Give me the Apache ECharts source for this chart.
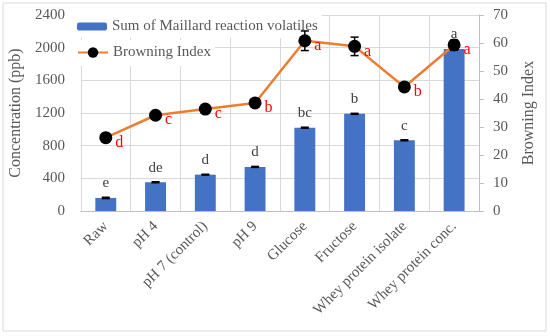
<!DOCTYPE html>
<html><head><meta charset="utf-8">
<script src="https://cdn.jsdelivr.net/npm/echarts@6/dist/echarts.min.js"></script>
<style>html,body{margin:0;padding:0;background:#fff}#c{width:550px;height:336px}</style>
</head><body><div id="c"></div>
<script>
const categories = ['Raw','pH 4','pH 7 (control)','pH 9','Glucose','Fructose','Whey protein isolate','Whey protein conc.'];
const volatiles = [160, 352, 445, 540, 1020, 1190, 866, 1985];
const volatilesErr = [8, 6, 5, 6, 6, 6, 6, 15];
const volatilesLetters = ['e','de','d','d','bc','b','c','a'];
const browning = [26.2, 34.2, 36.4, 38.6, 60.8, 58.8, 44.3, 59.3];
const browningErr = [0.5, 0.5, 0.5, 0.5, 3.5, 3.3, 0.5, 1.8];
const browningLetters = ['d','c','c','b','a','a','b','a'];
const leftTicks = {min: 0, max: 2400, interval: 400};
const rightTicks = {min: 0, max: 70, interval: 10};

const FONT = 'Liberation Serif';
const chart = echarts.init(document.getElementById('c'));

function errRender(capW) {
  return function (params, api) {
    const i = api.value(0);
    const v = api.value(1), e = api.value(2);
    const top = api.coord([i, v + e]);
    const bot = api.coord([i, v - e]);
    const x = top[0];
    const style = {stroke: '#000', lineWidth: 1.5};
    return {type: 'group', children: [
      {type: 'line', shape: {x1: x, y1: top[1], x2: x, y2: bot[1]}, style},
      {type: 'line', shape: {x1: x - capW, y1: top[1], x2: x + capW, y2: top[1]}, style},
      {type: 'line', shape: {x1: x - capW, y1: bot[1], x2: x + capW, y2: bot[1]}, style}
    ]};
  };
}

chart.setOption({
  animation: false,
  textStyle: {fontFamily: FONT},
  graphic: [{type: 'rect', shape: {x: 3, y: 3, width: 543, height: 328}, style: {fill: 'none', stroke: '#d9d9d9', lineWidth: 1}, silent: true, z: -10}],
  grid: {left: 77, right: 71, top: 15, bottom: 125, show: false},
  legend: [
    {data: ['Sum of Maillard reaction volatiles'], left: 77, top: 15, orient: 'vertical',
     itemWidth: 30, itemHeight: 8, itemGap: 4, padding: [4, 4, 4, 0], backgroundColor: '#fff',
     textStyle: {fontFamily: FONT, fontSize: 15, color: '#595959'}},
    {data: ['Browning Index'], left: 77, top: 40, orient: 'vertical',
     itemWidth: 30, itemHeight: 13, padding: [5, 4, 6, 0], backgroundColor: '#fff',
     textStyle: {fontFamily: FONT, fontSize: 15, color: '#595959'}}
  ],
  xAxis: {
    type: 'category', data: categories, boundaryGap: true,
    axisLine: {lineStyle: {color: '#bfbfbf'}},
    axisTick: {show: false},
    splitLine: {show: true, interval: 0, lineStyle: {color: '#d9d9d9'}},
    axisLabel: {interval: 0, rotate: 45, fontFamily: FONT, fontSize: 15, color: '#595959', margin: 13}
  },
  yAxis: [
    {type: 'value', min: leftTicks.min, max: leftTicks.max, interval: leftTicks.interval,
     name: 'Concentration (ppb)', nameLocation: 'middle', nameGap: 52,
     nameTextStyle: {fontFamily: FONT, fontSize: 16, color: '#595959'},
     axisLine: {show: true, lineStyle: {color: '#d9d9d9'}}, axisTick: {show: false},
     splitLine: {lineStyle: {color: '#d9d9d9'}},
     axisLabel: {fontFamily: FONT, fontSize: 15, color: '#595959', margin: 16, formatter: v => String(v)}},
    {type: 'value', min: rightTicks.min, max: rightTicks.max, interval: rightTicks.interval,
     name: 'Browning Index', nameLocation: 'middle', nameGap: 42,
     nameTextStyle: {fontFamily: FONT, fontSize: 16, color: '#595959'},
     axisLine: {show: true, lineStyle: {color: '#bfbfbf'}},
     axisTick: {show: true, length: 5, lineStyle: {color: '#bfbfbf'}},
     splitLine: {show: false},
     axisLabel: {fontFamily: FONT, fontSize: 15, color: '#595959', margin: 14}}
  ],
  series: [
    {name: 'Sum of Maillard reaction volatiles', type: 'bar', yAxisIndex: 0, data: volatiles,
     barWidth: '42%', itemStyle: {color: '#4472C4'},
     label: {show: true, position: 'top', distance: 7, fontFamily: FONT, fontSize: 15, color: '#404040',
       formatter: p => volatilesLetters[p.dataIndex]}},
    {name: 'volErr', type: 'custom', yAxisIndex: 0, z: 3,
     data: volatiles.map((v, i) => [i, v, volatilesErr[i]]),
     renderItem: errRender(4), encode: {x: 0, y: 1}, tooltip: {show: false}},
    {name: 'Browning Index', type: 'line', yAxisIndex: 1, data: browning, z: 4,
     lineStyle: {color: '#ED7D31', width: 2.5}, itemStyle: {color: '#000'},
     symbol: 'circle', symbolSize: 13,
     label: {show: true, position: 'right', distance: 0, offset: [3, 5], fontFamily: FONT, fontSize: 16, color: '#ff0000',
       formatter: p => browningLetters[p.dataIndex]}},
    {name: 'biErr', type: 'custom', yAxisIndex: 1, z: 5,
     data: browning.map((v, i) => [i, v, browningErr[i]]),
     renderItem: errRender(4), encode: {x: 0, y: 1}}
  ]
});
</script></body></html>
